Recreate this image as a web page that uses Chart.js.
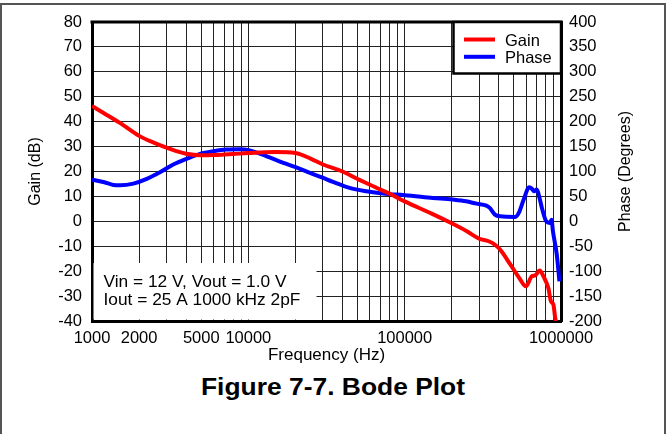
<!DOCTYPE html>
<html>
<head>
<meta charset="utf-8">
<script src="https://cdn.jsdelivr.net/npm/chart.js@4.4.1/dist/chart.umd.min.js"></script>
<style>
	html, body { margin: 0; padding: 0; background: #fff; width: 666px; height: 434px; overflow: hidden; }
	#frame { position: absolute; left: 0; top: 3px; width: 662px; height: 440px; border: 2px solid #555; border-bottom: none; }
	#wrap { position: absolute; left: 0; top: 0; width: 666px; height: 372px; }
	#caption { position: absolute; left: 0; top: 373px; width: 666px; line-height: 28px; text-align: center;
		font: bold 24px 'Liberation Sans', Arial, sans-serif; transform: scaleX(1.1); }
</style>
</head>
<body>
<div id="frame"></div>
<div id="wrap"><canvas id="bode"></canvas></div>
<div id="caption">Figure 7-7. Bode Plot</div>
<script>
// Loop gain (dB) vs frequency (Hz)
const GAIN_FREQ = [1000, 1200, 1500, 2000, 2500, 3000, 3500, 4000, 5000, 6000, 7000, 8000, 10000,
	15000, 20000, 25000, 30000, 40000, 50000, 60000, 70000, 80000, 100000, 150000, 200000, 250000,
	300000, 345000, 380000, 410000, 475000, 540000, 597000, 650000, 685000, 730000, 772000, 830000,
	862000, 895000, 918000, 945000];
const GAIN_DB   = [46.3, 43.3, 39.6, 34.3, 31.5, 29.6, 28.1, 27.1, 26.5, 26.6, 26.8, 27.0, 27.4,
	27.8, 27.4, 25.2, 22.8, 20.0, 17.0, 14.7, 12.7, 11.1, 8.0, 3.0, -0.8, -4.0,
	-7.0, -8.0, -9.5, -11.5, -17.4, -22.7, -26.1, -22.1, -21.7, -19.7, -22.1, -26.8,
	-32.1, -33.5, -38.8, -42];

// Loop phase (degrees) vs frequency (Hz)
const PHASE_FREQ = [1000, 1200, 1370, 1510, 1840, 2240, 2720, 3310, 4030, 4910, 5980, 7270, 8850,
	9940, 13100, 16750, 19870, 24800, 29860, 34800, 44430, 56960, 72840, 100000, 151600, 202000,
	247000, 288000, 333000, 350000, 378000, 408000, 510000, 537000, 577000, 626000, 650000, 673000,
	700000, 729000, 755000, 805000, 849000, 870000, 888000, 940000, 977000];
const PHASE_DEG  = [83.7, 78.3, 73.1, 72.3, 75.7, 85.1, 98.4, 113.9, 125.3, 135.3, 140.6, 144, 144.6,
	143.4, 130.5, 117.3, 109.2, 97.2, 87.5, 79, 67, 60.2, 55.6, 52.5, 47, 43.6,
	40.2, 35.5, 31.5, 26.9, 13.5, 10, 8.8, 16.9, 43.6, 68.3, 65.7, 60.2,
	63.7, 47, 26.9, 0, -3.3, 3.4, -20, -67, -120.5];

// Grid at every 1..9 x decade, labels only on a few
const X_GRID   = [1, 2, 3, 4, 5, 6, 7, 8, 9].flatMap(m => [1e3, 1e4, 1e5].map(d => m * d))
	.concat([1e6]).sort((a, b) => a - b);
const X_LABELS = [1000, 2000, 5000, 10000, 100000, 1000000];

const NOTE_LINES  = ['Vin = 12 V, Vout = 1.0 V', 'Iout = 25 A 1000 kHz 2pF'];
const PHASE_TITLE = 'Phase (Degrees)';

const FONT = "'Liberation Sans', Arial, sans-serif";
Chart.defaults.font.family = FONT;
Chart.defaults.font.size   = 16;
Chart.defaults.color       = '#000';

const toPoints = (xs, ys) => xs.map((x, i) => ({ x, y: ys[i] }));

// White note panel, legend box, top edge of the frame and the right axis title
const panels = {
	id: 'panels',
	beforeDatasetsDraw(chart) {
		const { ctx, chartArea: a } = chart;
		ctx.save();
		ctx.fillStyle = '#fff';
		ctx.fillRect(a.left + 1.5, a.bottom - 58, 223, 56.5);
		ctx.fillStyle = '#000';
		ctx.font = '16.5px ' + FONT;
		ctx.textBaseline = 'alphabetic';
		NOTE_LINES.forEach((t, i) => {
			ctx.save();
			ctx.translate(a.left + 11.5, a.bottom - 33.7 + i * 17.7);
			ctx.scale(1.05, 1);
			ctx.fillText(t, 0, 0);
			ctx.restore();
		});
		ctx.restore();
	},
	afterDatasetsDraw(chart) {
		const { ctx, chartArea: a } = chart;
		ctx.save();
		// top edge
		ctx.strokeStyle = '#000';
		ctx.lineWidth = 3;
		ctx.beginPath();
		ctx.moveTo(a.left - 1.5, a.top);
		ctx.lineTo(a.right + 1.5, a.top);
		ctx.stroke();

		// legend
		const lx = a.right - 107.5, ly = a.top;
		ctx.fillStyle = '#fff';
		ctx.fillRect(lx, ly, 107.5, 51.5);
		ctx.lineWidth = 2.5;
		ctx.strokeRect(lx, ly, 107.5, 51.5);
		ctx.font = '16.5px ' + FONT;
		ctx.textBaseline = 'alphabetic';
		chart.data.datasets.forEach((ds, i) => {
			const y = ly + 17.5 + i * 17.3;
			ctx.strokeStyle = ds.borderColor;
			ctx.lineWidth = 4;
			ctx.beginPath();
			ctx.moveTo(lx + 10.5, y);
			ctx.lineTo(lx + 41.5, y);
			ctx.stroke();
			ctx.fillStyle = '#000';
			ctx.fillText(ds.label, lx + 51.5, y + 6);
		});

		// right axis title reads bottom-to-top like the left one
		ctx.translate(625.5, (a.top + a.bottom) / 2);
		ctx.rotate(-Math.PI / 2);
		ctx.font = '16px ' + FONT;
		ctx.textAlign = 'center';
		ctx.textBaseline = 'middle';
		ctx.fillText(PHASE_TITLE, 0, 0);
		ctx.restore();
	}
};

new Chart(document.getElementById('bode'), {
	type: 'line',
	data: {
		datasets: [
			{
				label: 'Gain',
				data: toPoints(GAIN_FREQ, GAIN_DB),
				yAxisID: 'y',
				borderColor: '#ff0000',
				borderWidth: 4,
				pointRadius: 0,
				cubicInterpolationMode: 'monotone'
			},
			{
				label: 'Phase',
				data: toPoints(PHASE_FREQ, PHASE_DEG),
				yAxisID: 'y2',
				borderColor: '#0000ff',
				borderWidth: 4,
				pointRadius: 0,
				cubicInterpolationMode: 'monotone'
			}
		]
	},
	options: {
		responsive: true,
		maintainAspectRatio: false,
		animation: false,
		layout: { padding: { top: 22, left: 0, right: 0, bottom: 0 } },
		plugins: {
			legend: { display: false },
			tooltip: { enabled: false }
		},
		scales: {
			x: {
				type: 'logarithmic',
				min: 1000,
				max: 1000000,
				afterBuildTicks: s => { s.ticks = X_GRID.map(v => ({ value: v })); },
				afterFit: s => { s.height = 372 - 321; },
				ticks: {
					autoSkip: false,
					maxRotation: 0,
					padding: 8,
					font: { size: 16.5 },
					callback: v => X_LABELS.includes(v) ? String(v) : ''
				},
				grid: { color: '#222', lineWidth: 1, drawTicks: false },
				border: { color: '#000', width: 3 },
				title: { display: true, text: 'Frequency (Hz)', font: { size: 17 }, padding: { bottom: 6 } }
			},
			y: {
				position: 'left',
				min: -40,
				max: 80,
				afterFit: s => { s.width = 92; },
				ticks: { stepSize: 10, padding: 10, font: { size: 16.5 }, callback: v => String(v) },
				grid: { color: '#222', lineWidth: 1, drawTicks: false },
				border: { color: '#000', width: 3 },
				title: { display: true, text: 'Gain (dB)', font: { size: 16 }, padding: { top: 26 } }
			},
			y2: {
				position: 'right',
				min: -200,
				max: 400,
				afterFit: s => { s.width = 105; },
				ticks: { stepSize: 50, padding: 8, font: { size: 16.5 }, callback: v => String(v) },
				grid: { display: false, drawTicks: false },
				border: { color: '#000', width: 3 }
			}
		}
	},
	plugins: [panels]
});
</script>
</body>
</html>
